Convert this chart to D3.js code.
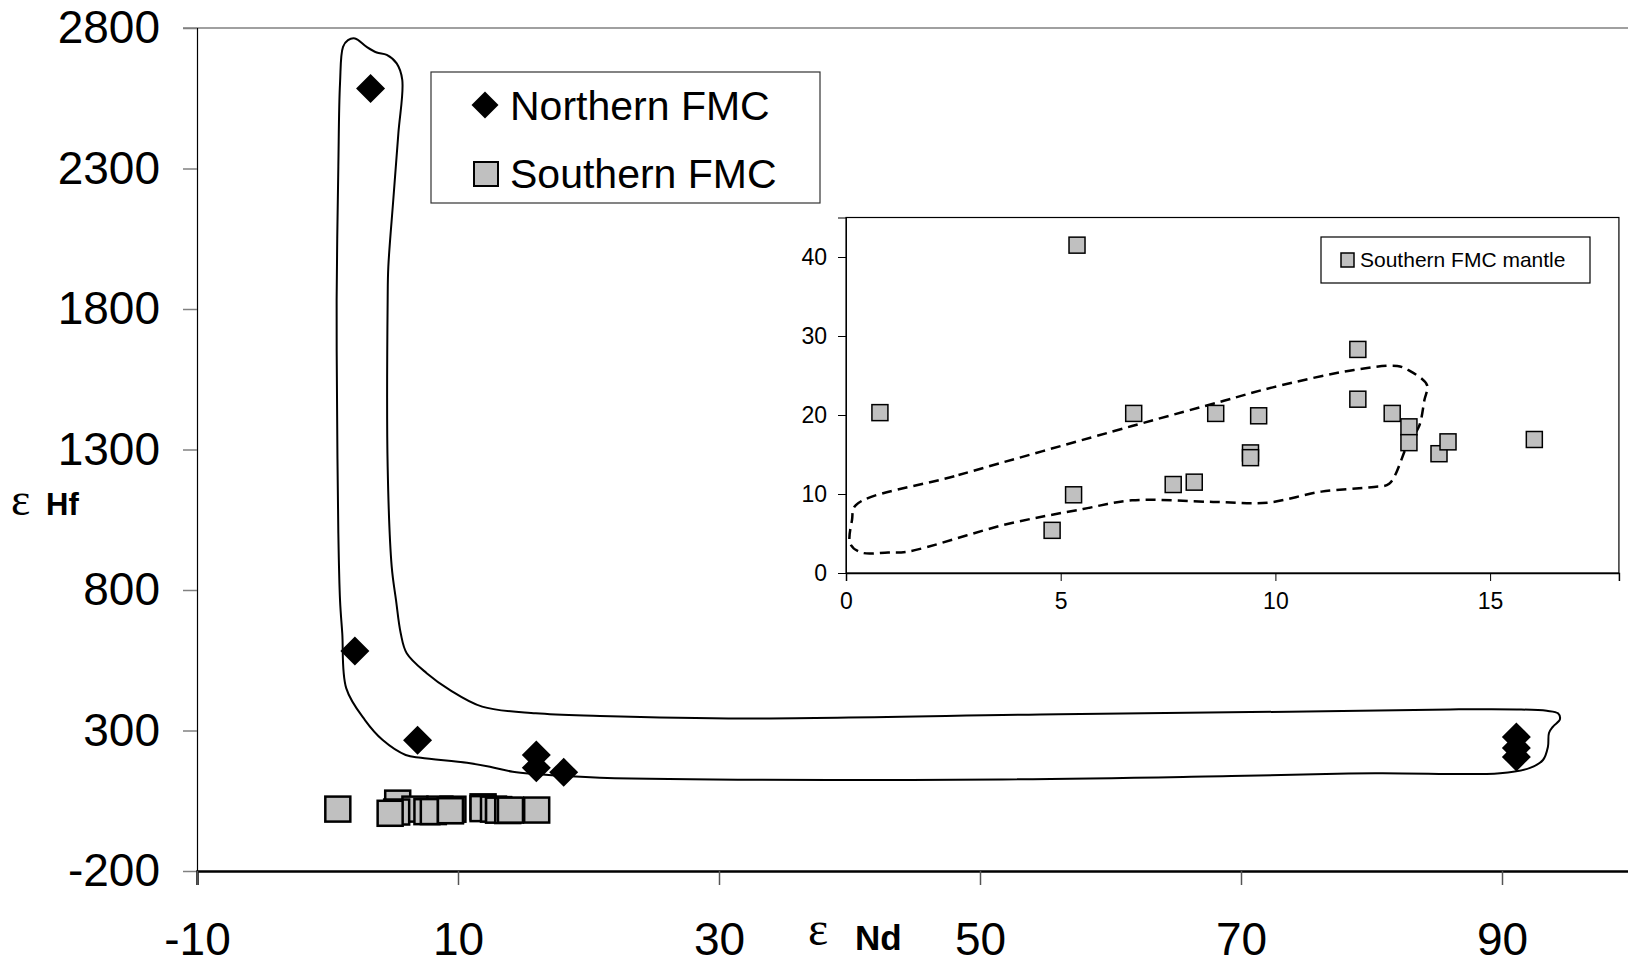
<!DOCTYPE html>
<html>
<head>
<meta charset="utf-8">
<script src="https://cdn.jsdelivr.net/npm/d3@7"></script>
<style>
  body { margin: 0; background: #fff; }
  svg { display: block; font-family: "Liberation Sans", Arial, sans-serif; }
  .axis text { fill: #000; }
</style>
</head>
<body>
<div id="chart"></div>
<script>
// εNd, εHf for the two groups
let northern = [
  [3.3, 2585], [2.1, 583], [6.9, 265], [16.0, 213], [16.0, 167],
  [18.1, 151], [91.1, 277], [91.1, 238], [91.1, 206]
]
let southern = [
  [0.79, 20.3], [5.38, 41.5], [6.70, 20.2], [8.61, 20.2], [9.61, 19.9],
  [5.30, 9.9], [4.80, 5.4], [7.62, 11.2], [8.11, 11.5], [9.42, 15.2],
  [9.42, 14.6], [11.92, 28.3], [11.92, 22.0], [12.72, 20.2], [13.11, 18.5],
  [13.11, 16.5], [13.81, 15.1], [14.02, 16.6], [16.03, 16.9]
]
// hand drawn envelope round the northern samples (main plot units)
let envelope = [
  [2.87, 337], [1.44, 450], [1.13, 647], [0.96, 764], [0.83, 1003], [0.73, 1476],
  [0.70, 1832], [0.83, 2306], [0.96, 2604], [1.19, 2733], [1.57, 2757], [2.11, 2763],
  [3.0, 2733], [3.77, 2713], [4.54, 2704], [5.30, 2674], [5.73, 2615], [5.43, 2425],
  [5.04, 2188], [4.66, 1950], [4.61, 1832], [4.61, 1239], [4.92, 883], [5.25, 764],
  [5.61, 646], [6.07, 575], [7.60, 504], [9.39, 444], [11.85, 385], [15.96, 361],
  [20.88, 352], [31.88, 343], [56.05, 358], [73.68, 367], [86.02, 375], [91.13, 375],
  [93.43, 370], [94.29, 361], [94.44, 340], [93.91, 314], [93.6, 291], [93.52, 242],
  [93.14, 195], [92.15, 167], [89.85, 148], [80.27, 148], [69.27, 138], [51.67, 126],
  [20.88, 132], [15.96, 145], [14.2, 153], [12.45, 171], [10.69, 185], [7.16, 203],
  [5.99, 213], [4.23, 266]
]
// dashed field in the inset
let field = [
  [0.23, 8.6], [2.62, 12.4], [6.66, 18.6], [8.8, 21.8], [9.94, 23.5], [11.83, 25.7],
  [12.84, 26.2], [13.09, 25.7], [13.53, 23.8], [13.47, 21.9], [13.34, 18.5], [13.09, 16.4],
  [12.65, 11.3], [12.3, 10.9], [11.07, 10.3], [9.81, 8.9], [8.55, 9.0], [6.66, 9.2],
  [5.52, 8.1], [3.76, 6.2], [1.43, 2.7], [0.98, 2.6], [0.35, 2.6], [0.1, 3.7], [0.14, 6.7]
]
let xTicks = [-10, 10, 30, 50, 70, 90]
let yTicks = [-200, 300, 800, 1300, 1800, 2300, 2800]
let insetXTicks = [0, 5, 10, 15]
let insetYTicks = [0, 10, 20, 30, 40]

let width = 1628, height = 970
let plain = d => String(d)

let svg = d3.select('#chart').append('svg')
  .attr('width', width)
  .attr('height', height)

let x = d3.scaleLinear().domain([-10, 100]).range([197, 197 + 110 * 13.05])
let y = d3.scaleLinear().domain([-200, 2800]).range([871, 28])

let diamond = r => `M0,${-r}L${r},0L0,${r}L${-r},0Z`

// top border of plot area
svg.append('line')
  .attr('x1', 183).attr('x2', width)
  .attr('y1', y(2800)).attr('y2', y(2800))
  .attr('stroke', '#808080').attr('stroke-width', 1.5)

let yAxis = svg.append('g')
  .attr('class', 'axis')
  .attr('transform', `translate(${x(-10)},0)`)
  .call(d3.axisLeft(y).tickValues(yTicks).tickFormat(plain).tickSize(14).tickPadding(23))
yAxis.select('.domain').attr('stroke', '#000').attr('stroke-width', 1.2)
yAxis.selectAll('.tick line').attr('stroke', '#808080').attr('stroke-width', 1.5)
yAxis.selectAll('text').style('font-size', '46px')

let xAxis = svg.append('g')
  .attr('class', 'axis')
  .attr('transform', `translate(0,${y(-200)})`)
  .call(d3.axisBottom(x).tickValues(xTicks).tickFormat(plain).tickSize(14).tickPadding(37))
xAxis.select('.domain').attr('stroke', '#000').attr('stroke-width', 2.5)
xAxis.selectAll('.tick line').attr('stroke', '#555').attr('stroke-width', 1.5)
xAxis.selectAll('text').style('font-size', '46px')

// axis titles
let yTitle = svg.append('text').attr('x', 11).attr('y', 515)
yTitle.append('tspan').attr('font-family', 'Liberation Serif, serif').attr('font-size', 46).text('ε')
yTitle.append('tspan').attr('x', 46).attr('font-weight', 'bold').attr('font-size', 31).text('Hf')

let xTitle = svg.append('text').attr('x', 808).attr('y', 945)
xTitle.append('tspan').attr('font-family', 'Liberation Serif, serif').attr('font-size', 48).text('ε')
xTitle.append('tspan').attr('x', 855).attr('y', 950).attr('font-weight', 'bold').attr('font-size', 35).text('Nd')

// envelope
svg.append('path')
  .attr('d', d3.line().x(d => x(d[0])).y(d => y(d[1])).curve(d3.curveCatmullRomClosed.alpha(0.5))(envelope))
  .attr('fill', 'none')
  .attr('stroke', '#000')
  .attr('stroke-width', 2)

svg.append('g').selectAll('rect')
  .data(southern)
  .enter().append('rect')
    .attr('x', d => x(d[0]) - 12.5)
    .attr('y', d => y(d[1]) - 12.5)
    .attr('width', 25).attr('height', 25)
    .attr('fill', '#c0c0c0')
    .attr('stroke', '#000')
    .attr('stroke-width', 2.5)

svg.append('g').selectAll('path')
  .data(northern)
  .enter().append('path')
    .attr('transform', d => `translate(${x(d[0])},${y(d[1])})`)
    .attr('d', diamond(14.5))
    .attr('fill', '#000')

// legend
let legend = svg.append('g')
legend.append('rect')
  .attr('x', 431).attr('y', 72).attr('width', 389).attr('height', 131)
  .attr('fill', '#fff').attr('stroke', '#333').attr('stroke-width', 1.2)
legend.append('path')
  .attr('transform', 'translate(485,105)')
  .attr('d', diamond(13.5))
  .attr('fill', '#000')
legend.append('text').attr('x', 510).attr('y', 120).attr('font-size', 41).text('Northern FMC')
legend.append('rect')
  .attr('x', 474).attr('y', 162).attr('width', 24).attr('height', 24)
  .attr('fill', '#c0c0c0').attr('stroke', '#000').attr('stroke-width', 2)
legend.append('text').attr('x', 510).attr('y', 188).attr('font-size', 41).text('Southern FMC')

// inset
let ix = d3.scaleLinear().domain([0, 18]).range([846, 846 + 18 * 42.94])
let iy = d3.scaleLinear().domain([0, 45]).range([573, 573 - 45 * 7.9])

let inset = svg.append('g')
inset.append('rect')
  .attr('x', ix(0)).attr('y', iy(45))
  .attr('width', ix(18) - ix(0)).attr('height', iy(0) - iy(45))
  .attr('fill', '#fff').attr('stroke', '#000').attr('stroke-width', 1.2)

let iyAxis = inset.append('g')
  .attr('class', 'axis')
  .attr('transform', `translate(${ix(0)},0)`)
  .call(d3.axisLeft(iy).tickValues(insetYTicks).tickFormat(plain).tickSize(8).tickPadding(11))
iyAxis.selectAll('text').style('font-size', '23px')

let ixAxis = inset.append('g')
  .attr('class', 'axis')
  .attr('transform', `translate(0,${iy(0)})`)
  .call(d3.axisBottom(ix).tickValues(insetXTicks).tickFormat(plain).tickSize(8).tickPadding(12))
ixAxis.select('.domain').attr('stroke-width', 1.5)
ixAxis.selectAll('text').style('font-size', '23px')

inset.append('path')
  .attr('d', d3.line().x(d => ix(d[0])).y(d => iy(d[1])).curve(d3.curveCatmullRomClosed.alpha(0.5))(field))
  .attr('fill', 'none')
  .attr('stroke', '#000')
  .attr('stroke-width', 2.5)
  .attr('stroke-dasharray', '10,6')

inset.append('g').selectAll('rect')
  .data(southern)
  .enter().append('rect')
    .attr('x', d => ix(d[0]) - 8)
    .attr('y', d => iy(d[1]) - 8)
    .attr('width', 16).attr('height', 16)
    .attr('fill', '#c0c0c0')
    .attr('stroke', '#000')
    .attr('stroke-width', 1.5)

let ilegend = inset.append('g')
ilegend.append('rect')
  .attr('x', 1321).attr('y', 237).attr('width', 269).attr('height', 46)
  .attr('fill', '#fff').attr('stroke', '#000').attr('stroke-width', 1.2)
ilegend.append('rect')
  .attr('x', 1341).attr('y', 253).attr('width', 13).attr('height', 14)
  .attr('fill', '#c0c0c0').attr('stroke', '#000').attr('stroke-width', 1.5)
ilegend.append('text').attr('x', 1360).attr('y', 267).attr('font-size', 21).text('Southern FMC mantle')
</script>
</body>
</html>
